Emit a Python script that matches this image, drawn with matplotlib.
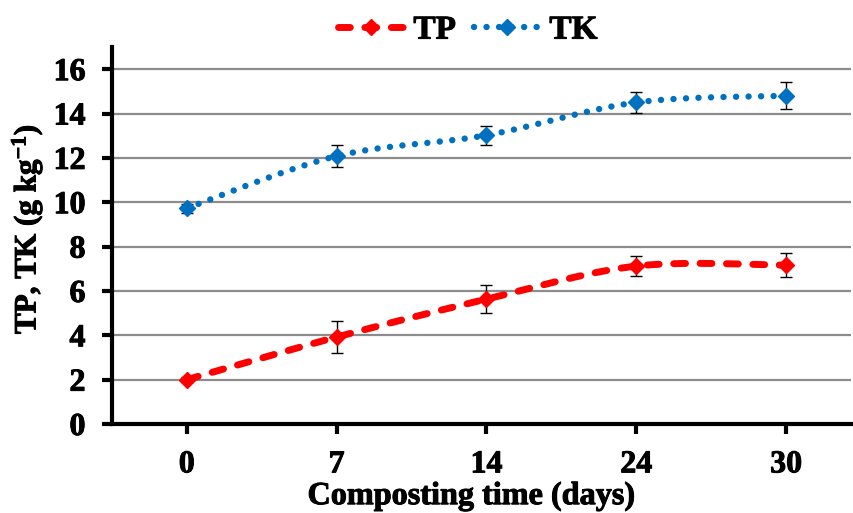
import numpy as np
import matplotlib
matplotlib.use("Agg")
import matplotlib.pyplot as plt
from matplotlib.lines import Line2D
import matplotlib.patheffects as pe

plt.rcParams['font.family'] = ['Liberation Serif', 'DejaVu Serif']
plt.rcParams['font.weight'] = 'bold'
plt.rcParams['mathtext.fontset'] = 'custom'
plt.rcParams['mathtext.rm'] = 'Liberation Serif:bold'
plt.rcParams['mathtext.bf'] = 'Liberation Serif:bold'
plt.rcParams['mathtext.it'] = 'Liberation Serif:bold'

categories = ["0", "7", "14", "24", "30"]
tp = [2.0, 3.92, 5.63, 7.12, 7.16]
tp_err = [0.12, 0.72, 0.63, 0.45, 0.55]
tk = [9.73, 12.08, 13.02, 14.5, 14.8]
tk_err = [0.2, 0.5, 0.42, 0.47, 0.6]

RED = "#FF0000"
BLUE = "#0070C0"
TP_LS = (0, (1.7, 2.1))
TK_LS = (0, (0.01, 1.95))
THICK = [pe.withStroke(linewidth=0.7, foreground='black')]


def smooth(xs, ys, n=40):
    xs = np.asarray(xs, float)
    ys = np.asarray(ys, float)
    ox, oy = [], []
    m = len(xs)
    for i in range(m - 1):
        p0 = (xs[max(i - 1, 0)], ys[max(i - 1, 0)])
        p1 = (xs[i], ys[i])
        p2 = (xs[i + 1], ys[i + 1])
        p3 = (xs[min(i + 2, m - 1)], ys[min(i + 2, m - 1)])
        c1 = (p1[0] + (p2[0] - p0[0]) / 6, p1[1] + (p2[1] - p0[1]) / 6)
        c2 = (p2[0] - (p3[0] - p1[0]) / 6, p2[1] - (p3[1] - p1[1]) / 6)
        t = np.linspace(0, 1, n)
        bx = (1 - t) ** 3 * p1[0] + 3 * (1 - t) ** 2 * t * c1[0] + 3 * (1 - t) * t ** 2 * c2[0] + t ** 3 * p2[0]
        by = (1 - t) ** 3 * p1[1] + 3 * (1 - t) ** 2 * t * c1[1] + 3 * (1 - t) * t ** 2 * c2[1] + t ** 3 * p2[1]
        if i > 0:
            bx, by = bx[1:], by[1:]
        ox.extend(bx)
        oy.extend(by)
    return np.array(ox), np.array(oy)


fig = plt.figure(figsize=(8.54, 5.13), dpi=100)
ax = fig.add_axes([0.131, 0.1735, 0.865, 0.7349])

x = np.arange(len(categories))
ysc = 22.19 / 150.0

for vals, err, col, ls, lw in [(tp, tp_err, RED, TP_LS, 5.0),
                               (tk, tk_err, BLUE, TK_LS, 4.6)]:
    sx, sy = smooth(x, np.array(vals) * ysc)
    ax.plot(sx, sy / ysc, color=col, linestyle=ls, lw=lw, dash_capstyle='round', solid_capstyle='round', zorder=3)
    ax.errorbar(x, vals, yerr=err, fmt='none', ecolor='black', elinewidth=1.0, capsize=4.5, capthick=1.0, zorder=4)
    ax.plot(x, vals, linestyle='none', marker='D', markersize=8.5, color=col, zorder=5)

ax.set_xlim(-0.5, 4.43)
ax.set_ylim(0, 17)
ax.set_yticks(np.arange(0, 17, 2))
ax.set_xticks(x)
ax.set_xticklabels(categories)
ax.yaxis.grid(True, color='#8c8c8c', lw=1.6)
ax.set_axisbelow(True)
for s in ['top', 'right']:
    ax.spines[s].set_visible(False)
for s in ['left', 'bottom']:
    ax.spines[s].set_linewidth(3)
    ax.spines[s].set_color('black')
ax.tick_params(axis='both', labelsize=23, width=3, length=7, direction='out', color='black')
ax.tick_params(axis='y', pad=12)
ax.tick_params(axis='x', pad=12)
for lab in ax.get_xticklabels() + ax.get_yticklabels():
    lab.set_fontweight('bold')
    lab.set_path_effects(THICK)

ax.set_xlabel("Composting time (days)", fontsize=23.2, fontweight='bold',
              path_effects=THICK)
ax.set_ylabel(r"TP, TK (g kg$^{-1}$)", fontsize=22.4, fontweight='bold',
              path_effects=THICK)
ax.xaxis.set_label_coords(0.487, -0.154)
ax.yaxis.set_label_coords(-0.091, 0.517)

handles = [Line2D([], [], color=RED, linestyle=TP_LS, lw=5.0, marker='D', markersize=8, dash_capstyle='round'),
           Line2D([], [], color=BLUE, linestyle=TK_LS, lw=4.6, marker='D', markersize=8, dash_capstyle='round')]
leg = fig.legend(handles, ["TP", "TK"], loc='upper center', bbox_to_anchor=(0.548, 1.03), ncol=2, frameon=False,
                 prop={'family': 'Liberation Serif', 'weight': 'bold', 'size': 24}, handlelength=1.95,
                 columnspacing=0.55, handletextpad=0.3)
for t in leg.get_texts():
    t.set_path_effects(THICK)

fig.savefig("out.png", dpi=100)
